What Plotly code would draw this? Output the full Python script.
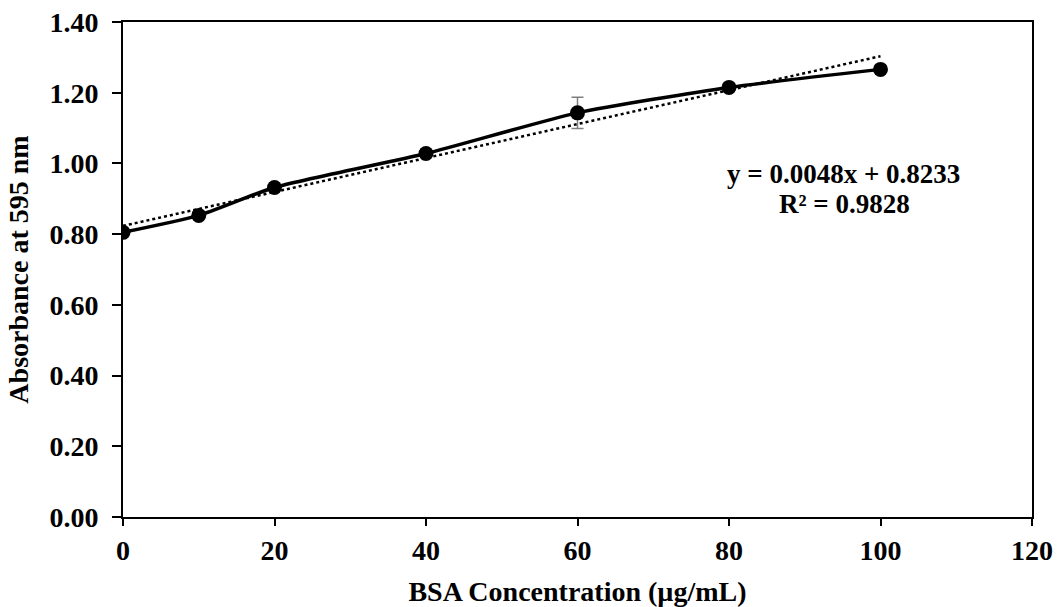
import plotly.graph_objects as go

conc = [0, 10, 20, 40, 60, 80, 100]
absorb = [0.805, 0.853, 0.932, 1.028, 1.143, 1.215, 1.266]
err = [0, 0, 0, 0, 0.044, 0, 0]
slope = 0.0048
intercept = 0.8233
r2 = 0.9828
xticks = [0, 20, 40, 60, 80, 100, 120]
yticks = [0.0, 0.2, 0.4, 0.6, 0.8, 1.0, 1.2, 1.4]

font = "Liberation Serif"
fsize = 28

fig = go.Figure()
fit_x = [conc[0], conc[-1]]
fit_y = [slope * x + intercept for x in fit_x]
fig.add_trace(go.Scatter(x=fit_x, y=fit_y, mode="lines",
                         line=dict(color="black", width=2.5, dash="dot"),
                         showlegend=False, hoverinfo="skip"))
fig.add_trace(go.Scatter(x=conc, y=absorb, mode="lines+markers",
                         line=dict(color="black", width=3.5, shape="spline", smoothing=0.6),
                         marker=dict(color="black", size=15),
                         error_y=dict(type="data", array=err, color="#7f7f7f", thickness=1.5, width=6),
                         showlegend=False))

fig.add_annotation(x=0.793, y=0.693, xref="paper", yref="paper", xanchor="center", yanchor="middle",
                   text=f"<b>y = {slope}x + {intercept}</b>",
                   showarrow=False, font=dict(family=font, size=27, color="black"))
fig.add_annotation(x=0.794, y=0.632, xref="paper", yref="paper", xanchor="center", yanchor="middle",
                   text=f"<b>R² = {r2}</b>",
                   showarrow=False, font=dict(family=font, size=27, color="black"))

axis_common = dict(showgrid=False, zeroline=False, showline=True, linecolor="black",
                   linewidth=2, mirror=True, ticks="outside", tickwidth=2,
                   tickcolor="black", automargin=False, ticklabeloverflow="allow",
                   tickfont=dict(family=font, size=fsize, color="black", weight="bold"))
fig.update_xaxes(range=[0, 120], tickvals=xticks, ticktext=[str(v) for v in xticks], ticklen=7,
                 title=dict(text="<b>BSA Concentration (µg/mL)</b>",
                            font=dict(family=font, size=fsize, color="black"), standoff=18),
                 **axis_common)
fig.update_yaxes(range=[0, 1.4], tickvals=yticks, ticktext=[f"{v:.2f}" for v in yticks], ticklen=9,
                 ticklabelstandoff=8,
                 title=dict(text="<b>Absorbance at 595 nm</b>",
                            font=dict(family=font, size=fsize, color="black"), standoff=13),
                 **axis_common)
fig.update_layout(width=1057, height=607, plot_bgcolor="white", paper_bgcolor="white",
                  margin=dict(l=123, r=25, t=22, b=90),
                  font=dict(family=font, size=fsize, color="black"))
fig.write_html("out.html", config={"displayModeBar": False},
               post_script="document.body.style.margin='0';document.body.style.overflow='hidden';")
